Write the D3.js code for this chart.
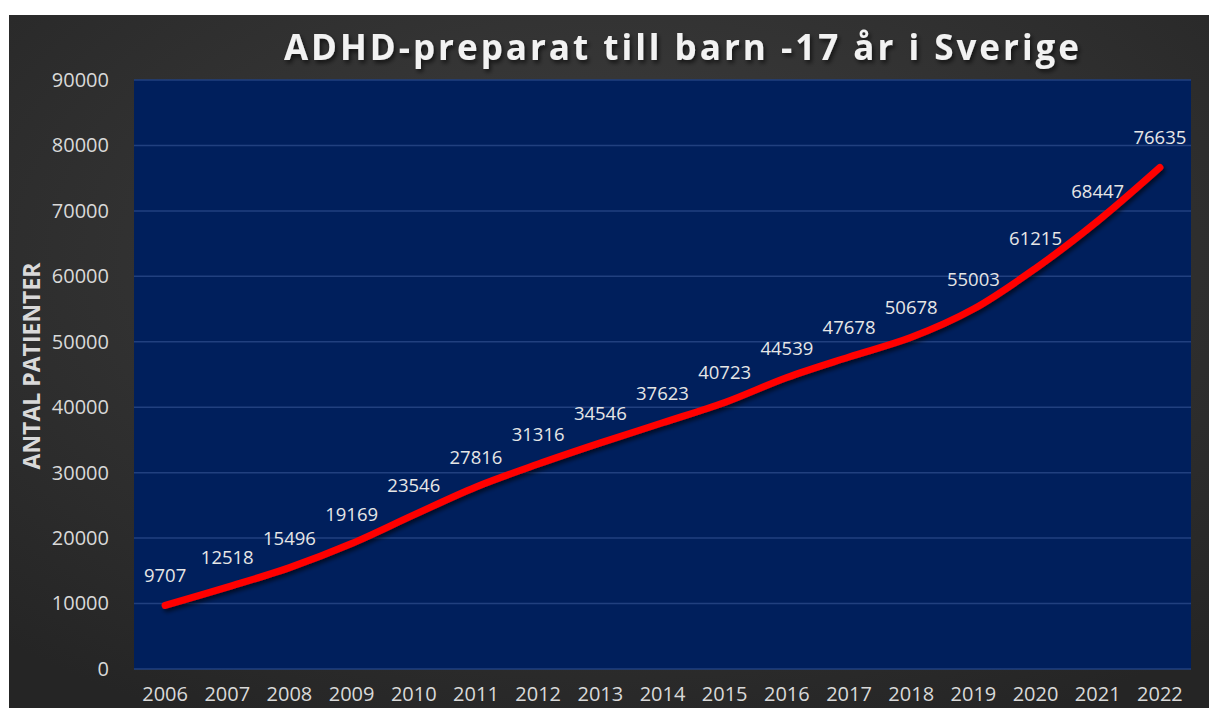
<!DOCTYPE html>
<html>
<head>
<meta charset="utf-8">
<script src="https://cdn.jsdelivr.net/npm/d3@7"></script>
<style>
  body { margin: 0; background: #fff; }
  svg { display: block; font-family: "Open Sans", "Noto Sans", sans-serif; }
</style>
</head>
<body>
<svg width="1209" height="708"></svg>
<script>
var years = ['2006','2007','2008','2009','2010','2011','2012','2013','2014','2015','2016','2017','2018','2019','2020','2021','2022'];
var patients = [9707, 12518, 15496, 19169, 23546, 27816, 31316, 34546, 37623, 40723, 44539, 47678, 50678, 55003, 61215, 68447, 76635];
var yTicks = [0, 10000, 20000, 30000, 40000, 50000, 60000, 70000, 80000, 90000];

var svg = d3.select('svg');
var defs = svg.append('defs');

var bg = defs.append('radialGradient')
    .attr('id', 'bg')
    .attr('cx', '50%').attr('cy', '35%').attr('r', '75%');
bg.append('stop').attr('offset', '0%').attr('stop-color', '#3f3f3f');
bg.append('stop').attr('offset', '100%').attr('stop-color', '#252525');

var shadow = defs.append('filter').attr('id', 'shadow')
    .attr('x', '-10%').attr('y', '-20%').attr('width', '120%').attr('height', '140%');
shadow.append('feDropShadow')
    .attr('dx', 2).attr('dy', 3).attr('stdDeviation', 2)
    .attr('flood-color', '#000').attr('flood-opacity', 0.6);

// chart background
svg.append('rect')
    .attr('x', 9).attr('y', 15)
    .attr('width', 1200).attr('height', 693)
    .attr('fill', 'url(#bg)');

var plotLeft = 134, plotRight = 1191, plotTop = 80, plotBottom = 669;

var x = d3.scaleBand().domain(years).range([plotLeft, plotRight]);
var y = d3.scaleLinear().domain([0, 90000]).range([plotBottom, plotTop]);

// plot area
svg.append('rect')
    .attr('x', plotLeft).attr('y', plotTop)
    .attr('width', plotRight - plotLeft).attr('height', plotBottom - plotTop)
    .attr('fill', '#001f5c');

// gridlines
svg.append('g')
    .selectAll('line')
    .data(yTicks)
    .enter()
    .append('line')
    .attr('x1', plotLeft).attr('x2', plotRight)
    .attr('y1', function(d) { return y(d); })
    .attr('y2', function(d) { return y(d); })
    .attr('stroke', '#21407f')
    .attr('stroke-width', 1.5);

// y axis
var yAxis = svg.append('g')
    .attr('transform', 'translate(' + (plotLeft - 22) + ',0)')
    .call(d3.axisLeft(y).tickValues(yTicks).tickSize(0).tickFormat(d3.format('d')));
yAxis.select('.domain').remove();
yAxis.selectAll('text')
    .attr('fill', '#d9d9d9')
    .attr('font-size', 20)
    .attr('font-family', '"Open Sans", sans-serif');

// x axis
var xAxis = svg.append('g')
    .attr('transform', 'translate(0,' + (plotBottom + 15) + ')')
    .call(d3.axisBottom(x).tickSize(0));
xAxis.select('.domain').remove();
xAxis.selectAll('text')
    .attr('fill', '#d9d9d9')
    .attr('font-size', 20)
    .attr('font-family', '"Open Sans", sans-serif');

// title
svg.append('text')
    .attr('x', 683).attr('y', 60)
    .attr('text-anchor', 'middle')
    .attr('fill', '#f2f2f2')
    .attr('font-size', 35)
    .attr('font-weight', 'bold')
    .attr('letter-spacing', 3.0)
    .attr('filter', 'url(#shadow)')
    .text('ADHD-preparat till barn -17 år i Sverige');

// y axis title
svg.append('text')
    .attr('transform', 'translate(40,366) rotate(-90)')
    .attr('text-anchor', 'middle')
    .attr('fill', '#d9d9d9')
    .attr('font-size', 23)
    .attr('font-weight', 'bold')
    .text('ANTAL PATIENTER');

// line
var line = d3.line()
    .x(function(d, i) { return x(years[i]) + x.bandwidth() / 2; })
    .y(function(d) { return y(d); })
    .curve(d3.curveCatmullRom.alpha(0.5));

svg.append('path')
    .datum(patients)
    .attr('d', line)
    .attr('fill', 'none')
    .attr('stroke', '#ff0000')
    .attr('stroke-width', 7)
    .attr('stroke-linecap', 'round')
    .attr('filter', 'url(#shadow)');

// labels
svg.append('g')
    .selectAll('text')
    .data(patients)
    .enter()
    .append('text')
    .attr('x', function(d, i) { return x(years[i]) + x.bandwidth() / 2; })
    .attr('y', function(d) { return y(d) - 23; })
    .attr('text-anchor', 'middle')
    .attr('fill', '#e6e6e6')
    .attr('font-size', 18.5)
    .text(function(d) { return d; });
</script>
</body>
</html>
